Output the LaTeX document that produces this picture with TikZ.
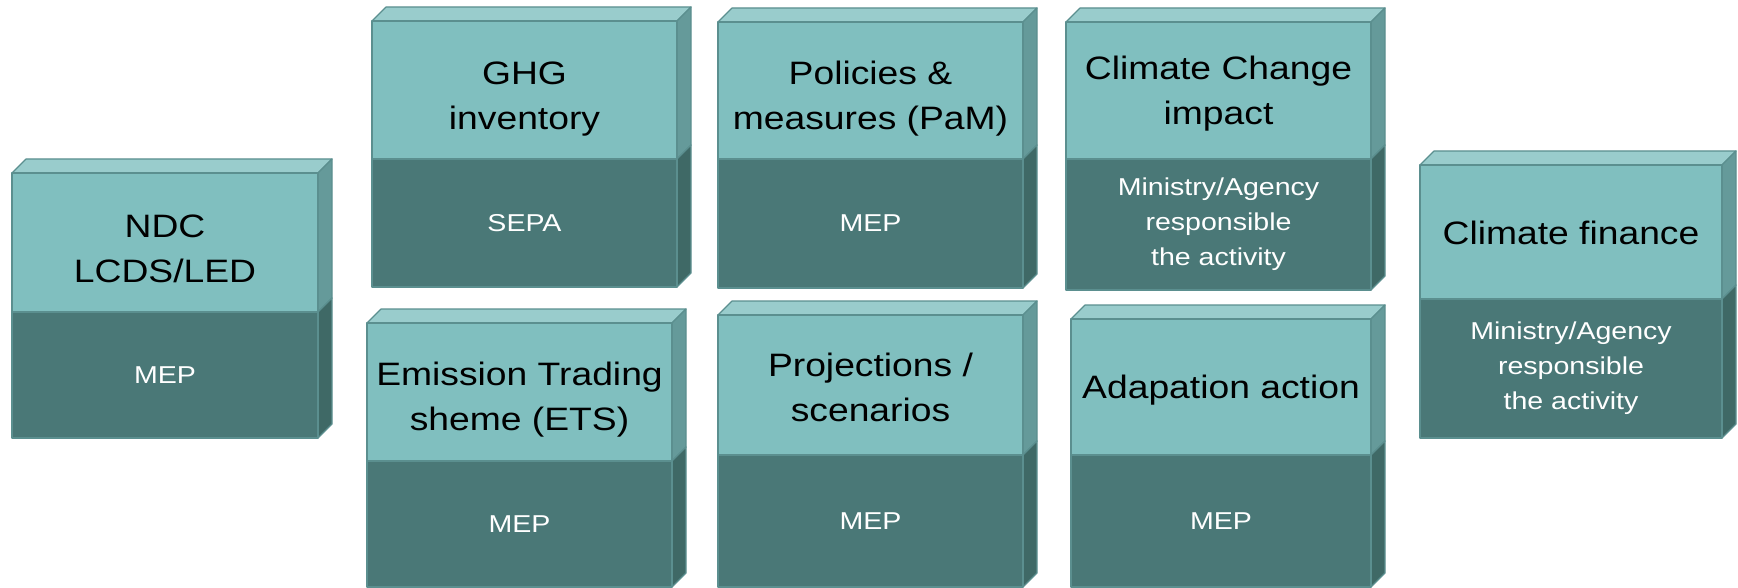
\documentclass[tikz,border=0pt]{standalone}
\usepackage{fontspec}
\usepackage{tikz}
\setmainfont{Liberation Sans}
\newfontfamily\topfont[FakeStretch=1.15]{Liberation Sans}
\newfontfamily\lowfont[FakeStretch=1.17]{Liberation Sans}

\definecolor{TopFace}{HTML}{99CCCC}
\definecolor{UpFront}{HTML}{80BFBF}
\definecolor{UpSide}{HTML}{659A9A}
\definecolor{LowFront}{HTML}{4A7877}
\definecolor{LowSide}{HTML}{3F6966}
\definecolor{Edge}{HTML}{5B8F8F}

% #1 name, #2 left, #3 right, #4 top, #5 divide, #6 bottom, #7 title, #8 owner, #9 title shift
\newcommand{\Block}[9]{%
  \filldraw[face, fill=TopFace] (#2,#4) -- (#2+14,#4-14) -- (#3+14,#4-14) -- (#3,#4) -- cycle;
  \filldraw[face, fill=UpSide] (#3,#4) -- (#3+14,#4-14) -- (#3+14,#5-14) -- (#3,#5) -- cycle;
  \filldraw[face, fill=LowSide] (#3,#5) -- (#3+14,#5-14) -- (#3+14,#6-14) -- (#3,#6) -- cycle;
  \filldraw[face, fill=UpFront] (#2,#4) rectangle (#3,#5);
  \filldraw[face, fill=LowFront] (#2,#5) rectangle (#3,#6);
  \node[title] (#1) at ({(#2+#3)/2},{(#4+#5)/2+#9}) {#7};
  \node[owner] (#1-own) at ({(#2+#3)/2},{(#5+#6)/2}) {#8};
}

\begin{document}
\begin{tikzpicture}[x=0.5pt, y=-0.5pt,
    face/.style={draw=Edge, line width=0.6pt, line join=round},
    title/.style={align=center, text=black, inner sep=0pt,
      font=\topfont\fontsize{16.2}{22.5}\selectfont},
    owner/.style={align=center, text=white, inner sep=0pt,
      font=\lowfont\fontsize{12.2}{17.5}\selectfont}]
    \useasboundingbox (0,0) rectangle (1738,588);

    \Block{ndc}{12}{318}{173}{312}{438}{NDC\\LCDS/LED}{MEP}{6}
    \Block{ghg}{372}{677}{21}{159}{287}{GHG\\inventory}{SEPA}{9}
    \Block{pam}{718}{1023}{22}{159}{288}{Policies \&\\measures (PaM)}{MEP}{8}
    \Block{impact}{1066}{1371}{22}{159}{290}{Climate Change\\impact}{Ministry/Agency\\responsible\\the activity}{3}
    \Block{finance}{1420}{1722}{165}{299}{438}{Climate finance}{Ministry/Agency\\responsible\\the activity}{1}
    \Block{ets}{367}{672}{323}{461}{587}{Emission Trading\\sheme (ETS)}{MEP}{8}
    \Block{proj}{718}{1023}{315}{455}{587}{Projections /\\scenarios}{MEP}{2}
    \Block{adapt}{1071}{1371}{319}{455}{587}{Adapation action}{MEP}{3}

\end{tikzpicture}
\end{document}
